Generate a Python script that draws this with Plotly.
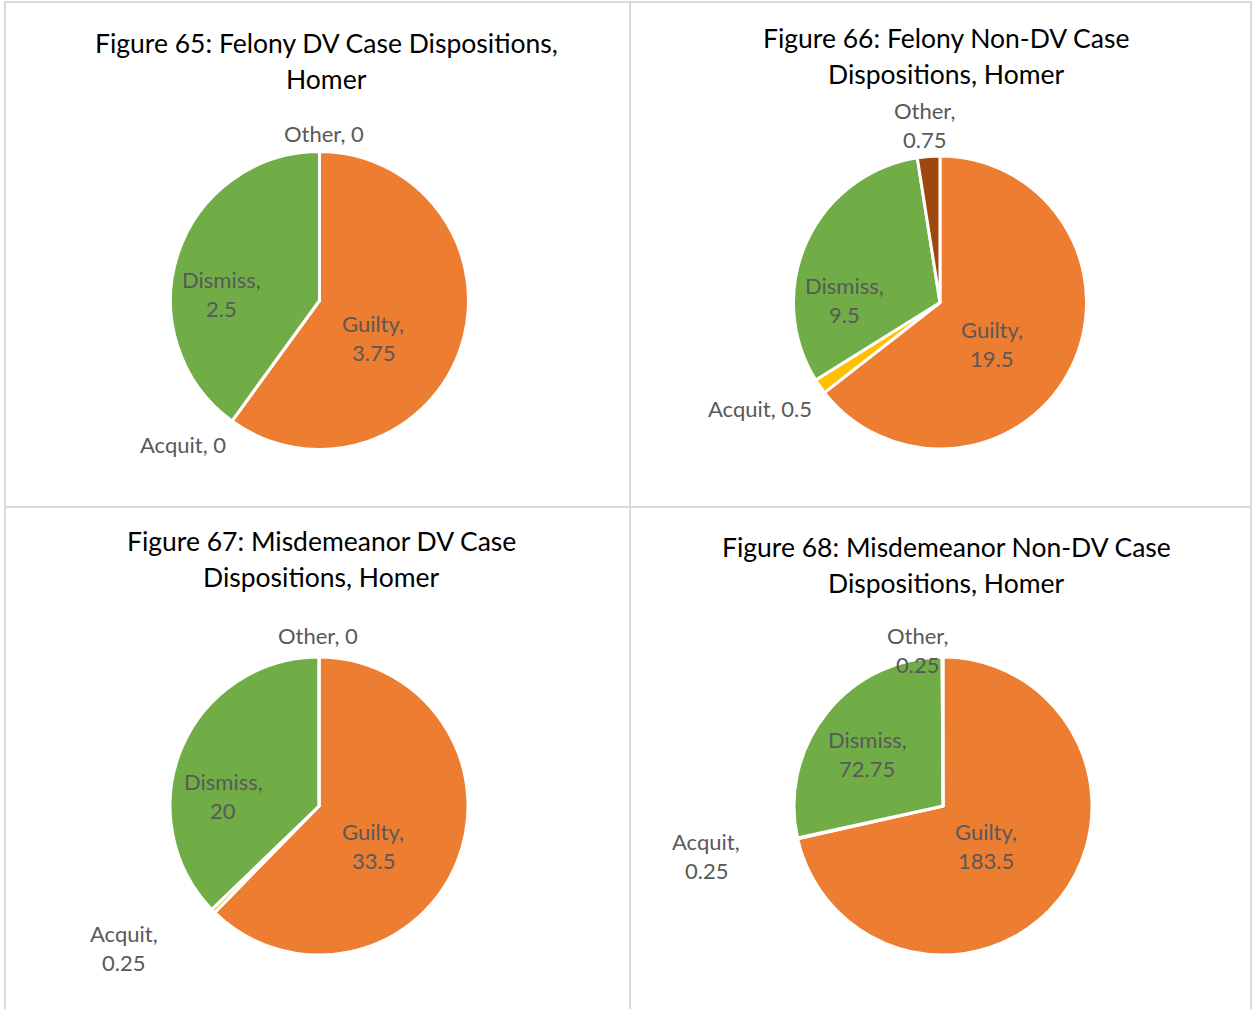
import plotly.graph_objects as go

# Disposition categories, in slice order (clockwise from 12 o'clock)
categories = ["Guilty", "Acquit", "Dismiss", "Other"]
slice_colors = ["#ED7D31", "#FFC000", "#70AD47", "#9E480E"]

# Average case counts per disposition
felony_dv = [3.75, 0, 2.5, 0]
felony_non_dv = [19.5, 0.5, 9.5, 0.75]
misd_dv = [33.5, 0.25, 20, 0]
misd_non_dv = [183.5, 0.25, 72.75, 0.25]

titles = [
    ["Figure 65: Felony DV Case Dispositions,", "Homer"],
    ["Figure 66: Felony Non-DV Case", "Dispositions, Homer"],
    ["Figure 67: Misdemeanor DV Case", "Dispositions, Homer"],
    ["Figure 68: Misdemeanor Non-DV Case", "Dispositions, Homer"],
]
series = [felony_dv, felony_non_dv, misd_dv, misd_non_dv]

W, H = 1254, 1009

# Layout of each panel (pixels): pie centre, radius, title centre/first line y
panels = [
    dict(cx=319.5, cy=300.5, r=149, tx=327, ty=43),
    dict(cx=940, cy=302.5, r=146.5, tx=946, ty=38),
    dict(cx=319, cy=806, r=149, tx=321, ty=541),
    dict(cx=943, cy=806, r=149, tx=946, ty=547),
]

# Data label placement per slice: (centre x, centre y, wrap onto two lines)
label_pos = [
    [(373, 338, True), (183, 444, False), (221, 294, True), (324, 133, False)],
    [(992, 344, True), (760, 408, False), (845, 300, True), (924, 125, True)],
    [(373, 846, True), (124, 948, True), (223, 796, True), (318, 635, False)],
    [(986, 846, True), (706, 856, True), (867, 754, True), (917, 650, True)],
]

FONT = "Lato"
LABEL_COLOR = "#595959"


def px(x):
    return x / W


def py(y):
    return 1 - y / H


fig = go.Figure()
annotations = []

for vals, p, title, labels in zip(series, panels, titles, label_pos):
    cx, cy, r = p["cx"], p["cy"], p["r"]
    fig.add_trace(go.Pie(
        labels=categories,
        values=vals,
        sort=False,
        direction="clockwise",
        rotation=0,
        marker=dict(colors=slice_colors, line=dict(color="white", width=3)),
        textinfo="none",
        hoverinfo="skip",
        showlegend=False,
        domain=dict(x=[px(cx - r), px(cx + r)], y=[py(cy + r), py(cy - r)]),
    ))

    # Chart title, two lines
    for i, line in enumerate(title):
        annotations.append(dict(
            x=px(p["tx"]), y=py(p["ty"] + i * 36), xref="paper", yref="paper",
            text=line, showarrow=False, xanchor="center", yanchor="middle",
            font=dict(family=FONT, size=26.5, color="#000000"),
        ))

    # Data labels "Category, value"
    for cat, v, (lx, ly, wrap) in zip(categories, vals, labels):
        value_txt = f"{v:g}"
        lines = [f"{cat},", value_txt] if wrap else [f"{cat}, {value_txt}"]
        pitch = 29
        top = ly - pitch * (len(lines) - 1) / 2
        for i, line in enumerate(lines):
            annotations.append(dict(
                x=px(lx), y=py(top + i * pitch), xref="paper", yref="paper",
                text=line, showarrow=False, xanchor="center", yanchor="middle",
                font=dict(family=FONT, size=22, color=LABEL_COLOR),
            ))

# Panel frames
border = dict(color="#D9D9D9", width=2)
shapes = [
    dict(type="rect", xref="paper", yref="paper",
         x0=px(5), x1=px(1251), y0=py(1012), y1=py(2), line=border),
    dict(type="line", xref="paper", yref="paper",
         x0=px(630), x1=px(630), y0=py(1012), y1=py(2), line=border),
    dict(type="line", xref="paper", yref="paper",
         x0=px(5), x1=px(1251), y0=py(507), y1=py(507), line=border),
]

fig.update_layout(
    width=W, height=H,
    margin=dict(l=0, r=0, t=0, b=0),
    paper_bgcolor="white",
    plot_bgcolor="white",
    annotations=annotations,
    shapes=shapes,
    showlegend=False,
)

fig.write_html("out.html")
